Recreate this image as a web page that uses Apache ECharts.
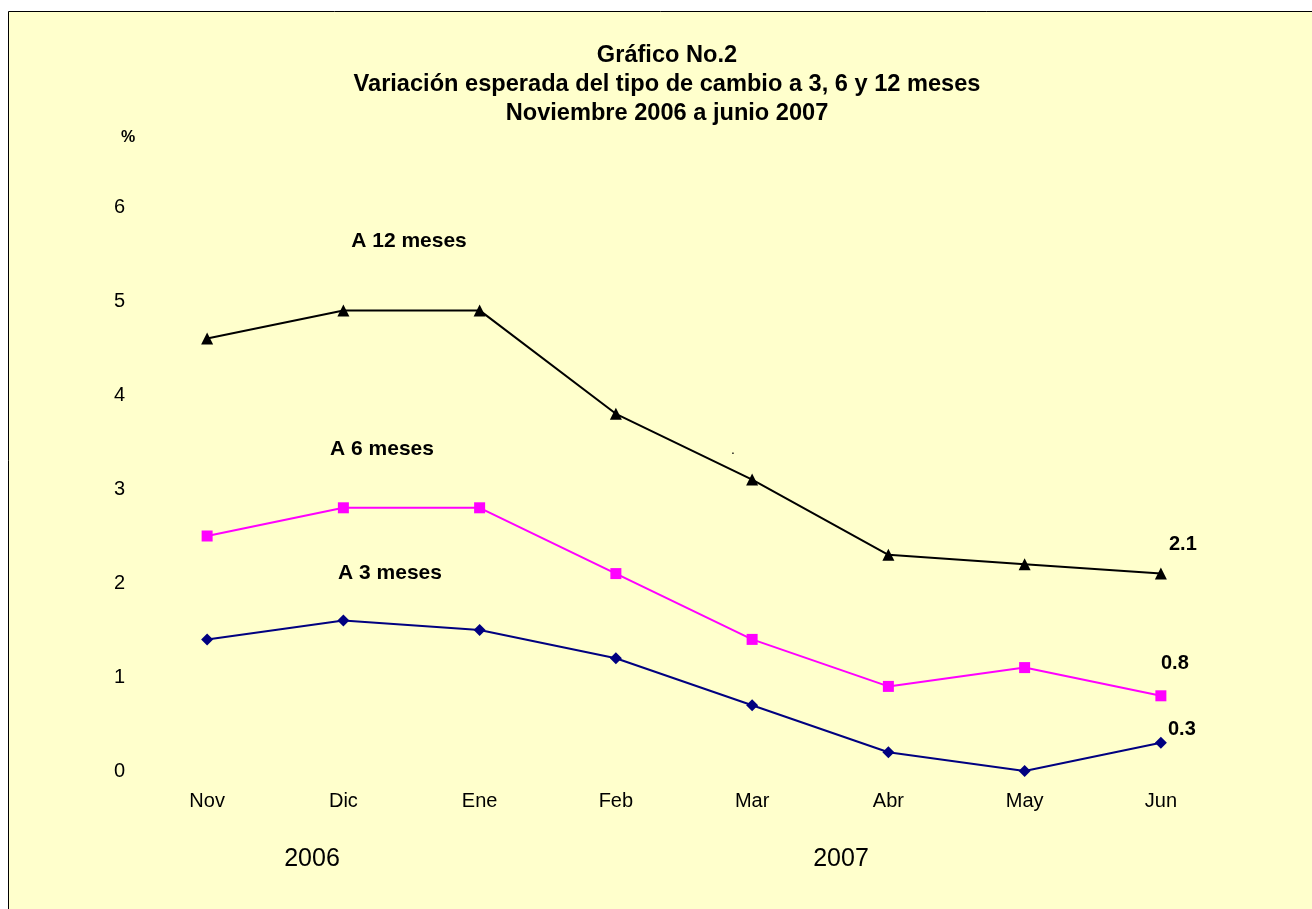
<!DOCTYPE html>
<html><head><meta charset="utf-8">
<script src="https://cdn.jsdelivr.net/npm/echarts@6/dist/echarts.min.js"></script>
<style>html,body{margin:0;padding:0;background:#fff}#c{width:1312px;height:909px}</style>
</head><body><div id="c"></div>
<script>
const categories = ['Nov','Dic','Ene','Feb','Mar','Abr','May','Jun'];
const m12 = [4.6, 4.9, 4.9, 3.8, 3.1, 2.3, 2.2, 2.1];
const m6 = [2.5, 2.8, 2.8, 2.1, 1.4, 0.9, 1.1, 0.8];
const m3 = [1.4, 1.6, 1.5, 1.2, 0.7, 0.2, 0.0, 0.3];
const yTicks = [0,1,2,3,4,5,6];
const years = ['2006','2007'];

const F = 'Arial, "Liberation Sans", sans-serif';
const chart = echarts.init(document.getElementById('c'));
function lastLabel(offset){
  return {show:true, position:'inside', offset:offset, color:'#000', fontFamily:F, fontSize:20, fontWeight:'bold',
    formatter:p => p.dataIndex === categories.length-1 ? String(p.value) : ''};
}
chart.setOption({
  backgroundColor:'#fff',
  animation:false,
  title:{text:'Gráfico No.2\nVariación esperada del tipo de cambio a 3, 6 y 12 meses\nNoviembre 2006 a junio 2007',
    left:662, textAlign:'center', top:36,
    textStyle:{fontFamily:F, fontSize:23.6, fontWeight:'bold', color:'#000', lineHeight:29}},
  graphic:[
    {type:'rect', z:-10, shape:{x:8.5,y:11.5,width:1310,height:905}, style:{fill:'#FFFFCC', stroke:'#000', lineWidth:1}},
    {type:'text', x:128, y:138, style:{text:'%', font:'bold 16px '+F, fill:'#000', align:'center', verticalAlign:'middle'}},
    {type:'text', x:409, y:241, style:{text:'A 12 meses', font:'bold 21px '+F, fill:'#000', align:'center', verticalAlign:'middle'}},
    {type:'text', x:382, y:449, style:{text:'A 6 meses', font:'bold 21px '+F, fill:'#000', align:'center', verticalAlign:'middle'}},
    {type:'text', x:390, y:573, style:{text:'A 3 meses', font:'bold 21px '+F, fill:'#000', align:'center', verticalAlign:'middle'}},
    {type:'text', x:733, y:450, style:{text:'.', font:'14px '+F, fill:'#000', align:'center', verticalAlign:'middle'}},
    {type:'text', x:312, y:859, style:{text:years[0], font:'25px '+F, fill:'#000', align:'center', verticalAlign:'middle'}},
    {type:'text', x:841, y:859, style:{text:years[1], font:'25px '+F, fill:'#000', align:'center', verticalAlign:'middle'}}
  ],
  grid:{left:139, right:83, top:207, bottom:138},
  xAxis:{type:'category', data:categories, boundaryGap:true,
    axisLine:{show:false}, axisTick:{show:false},
    axisLabel:{margin:20, color:'#000', fontFamily:F, fontSize:20}},
  yAxis:{type:'value', min:0, max:6, interval:1,
    axisLine:{show:false}, axisTick:{show:false}, splitLine:{show:false},
    axisLabel:{margin:14, color:'#000', fontFamily:F, fontSize:20, formatter:v => yTicks.includes(v)? String(v):''}},
  series:[
    {name:'A 12 meses', type:'line', data:m12, symbol:'triangle', symbolSize:12,
      lineStyle:{color:'#000', width:2}, itemStyle:{color:'#000'}, label:lastLabel([22,-29])},
    {name:'A 6 meses', type:'line', data:m6, symbol:'rect', symbolSize:11,
      lineStyle:{color:'#FF00FF', width:2}, itemStyle:{color:'#FF00FF'}, label:lastLabel([14,-32])},
    {name:'A 3 meses', type:'line', data:m3, symbol:'diamond', symbolSize:12,
      lineStyle:{color:'#000080', width:2}, itemStyle:{color:'#000080'}, label:lastLabel([21,-13])}
  ]
});
</script></body></html>
